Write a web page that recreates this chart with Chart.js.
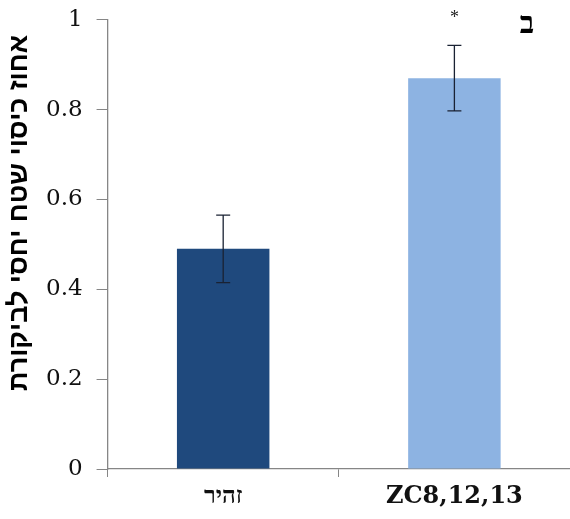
<!DOCTYPE html>
<html>
<head>
<meta charset="utf-8">
<script src="https://cdn.jsdelivr.net/npm/chart.js@4.4.1/dist/chart.umd.min.js"></script>
<style>
  body { margin: 0; background: #fff; }
  #wrap { width: 570px; height: 519px; }
</style>
</head>
<body>
<div id="wrap"><canvas id="chart"></canvas></div>
<script>
// data
const categories = ['זהיר', 'ZC8,12,13'];
const values = [0.49, 0.87];
const errors = [0.075, 0.073];
const barColors = ['#1f497d', '#8db3e2'];
const marks = ['', '*'];
const yTicks = [0, 0.2, 0.4, 0.6, 0.8, 1];
const yTitle = 'אחוז כיסוי שטח יחסי לביקורת';
const panelLabel = 'ב';

// error bars, significance mark, panel letter and the y title (sits above centre in the original)
const extras = {
  id: 'extras',
  afterDatasetsDraw(chart) {
    const ctx = chart.ctx;
    const x = chart.scales.x;
    const y = chart.scales.y;
    ctx.save();
    ctx.strokeStyle = '#1a2233';
    ctx.lineWidth = 1.3;
    values.forEach((v, i) => {
      const cx = x.getPixelForValue(i);
      const top = y.getPixelForValue(v + errors[i]);
      const bot = y.getPixelForValue(v - errors[i]);
      ctx.beginPath();
      ctx.moveTo(cx, top); ctx.lineTo(cx, bot);
      ctx.moveTo(cx - 7, top); ctx.lineTo(cx + 7, top);
      ctx.moveTo(cx - 7, bot); ctx.lineTo(cx + 7, bot);
      ctx.stroke();
      if (marks[i]) {
        ctx.fillStyle = '#222';
        ctx.font = '18px "Liberation Serif"';
        ctx.textAlign = 'center';
        ctx.textBaseline = 'middle';
        ctx.fillText(marks[i], cx, y.getPixelForValue(1) - 1);
      }
    });
    ctx.fillStyle = '#000';
    ctx.font = 'bold 30px "Liberation Serif"';
    ctx.textAlign = 'center';
    ctx.textBaseline = 'middle';
    ctx.fillText(panelLabel, chart.chartArea.right - 43, y.getPixelForValue(1) + 5);

    ctx.translate(20, y.getPixelForValue(0.57));
    ctx.rotate(-Math.PI / 2);
    ctx.font = 'bold 27px "Liberation Sans"';
    ctx.fillText(yTitle, 0, 0);
    ctx.restore();
  }
};

new Chart(document.getElementById('chart'), {
  type: 'bar',
  data: {
    labels: categories,
    datasets: [{
      data: values,
      backgroundColor: barColors,
      barPercentage: 0.4,
      categoryPercentage: 1
    }]
  },
  options: {
    responsive: true,
    maintainAspectRatio: false,
    animation: false,
    layout: { padding: { top: 13, right: 0, left: 32, bottom: 2 } },
    plugins: { legend: { display: false }, tooltip: { enabled: false } },
    scales: {
      x: {
        offset: true,
        border: { color: '#868686', width: 1.3 },
        grid: { offset: true, drawOnChartArea: false, tickLength: 8, color: '#868686' },
        ticks: {
          color: '#111',
          padding: 8,
          font: { family: 'DejaVu Serif', size: 24, weight: 'bold', lineHeight: 1.0 }
        }
      },
      y: {
        min: 0,
        max: 1,
        afterBuildTicks(axis) { axis.ticks = yTicks.map(v => ({ value: v })); },
        border: { color: '#868686', width: 1.3 },
        grid: { drawOnChartArea: false, tickLength: 11, color: '#868686' },
        ticks: {
          color: '#111',
          padding: 14,
          font: { family: 'DejaVu Serif', size: 23, lineHeight: 0.5 },
          callback: v => String(v)
        }
      }
    }
  },
  plugins: [extras]
});
</script>
</body>
</html>
